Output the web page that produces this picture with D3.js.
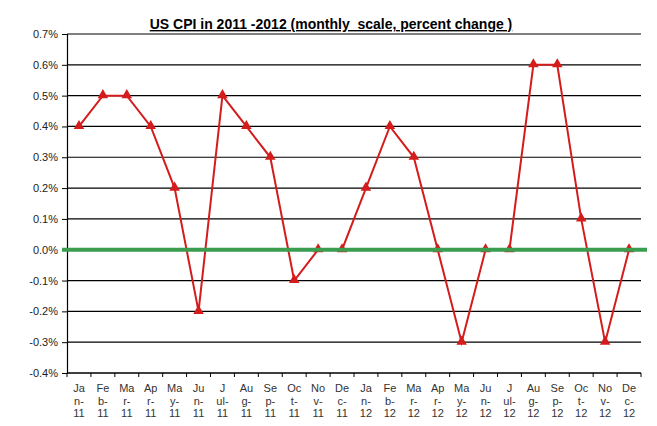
<!DOCTYPE html>
<html>
<head>
<meta charset="utf-8">
<script src="https://cdn.jsdelivr.net/npm/d3@7"></script>
<style>
	body { margin: 0; background: #fff; }
	text { font-family: Arial, "Liberation Sans", sans-serif; }
</style>
</head>
<body>
<script>
"use strict";

// Monthly CPI change, percent
var months = ["Jan-11", "Feb-11", "Mar-11", "Apr-11", "May-11", "Jun-11", "Jul-11", "Aug-11",
	"Sep-11", "Oct-11", "Nov-11", "Dec-11", "Jan-12", "Feb-12", "Mar-12", "Apr-12",
	"May-12", "Jun-12", "Jul-12", "Aug-12", "Sep-12", "Oct-12", "Nov-12", "Dec-12"];
var cpi = [0.4, 0.5, 0.5, 0.4, 0.2, -0.2, 0.5, 0.4, 0.3, -0.1, 0.0, 0.0,
	0.2, 0.4, 0.3, 0.0, -0.3, 0.0, 0.0, 0.6, 0.6, 0.1, -0.3, 0.0];
var yTicks = [-0.4, -0.3, -0.2, -0.1, 0.0, 0.1, 0.2, 0.3, 0.4, 0.5, 0.6, 0.7];
// the broken month labels, as the chart wraps them
var monthLines = [["Ja", "n-", "11"], ["Fe", "b-", "11"], ["Ma", "r-", "11"], ["Ap", "r-", "11"],
	["Ma", "y-", "11"], ["Ju", "n-", "11"], ["J", "ul-", "11"], ["Au", "g-", "11"],
	["Se", "p-", "11"], ["Oc", "t-", "11"], ["No", "v-", "11"], ["De", "c-", "11"],
	["Ja", "n-", "12"], ["Fe", "b-", "12"], ["Ma", "r-", "12"], ["Ap", "r-", "12"],
	["Ma", "y-", "12"], ["Ju", "n-", "12"], ["J", "ul-", "12"], ["Au", "g-", "12"],
	["Se", "p-", "12"], ["Oc", "t-", "12"], ["No", "v-", "12"], ["De", "c-", "12"]];

var W = 657, H = 426;
var plotL = 67, plotR = 641, plotT = 34, plotB = 373;

var svg = d3.select("body").append("svg").attr("width", W).attr("height", H);

var x = d3.scaleBand().domain(months).range([plotL, plotR]);
var y = d3.scaleLinear().domain([-0.4, 0.7]).range([plotB, plotT]);

// Gridlines
svg.append("g").selectAll("line").data(yTicks.filter(function(d) { return d !== 0; }))
	.enter().append("line")
	.attr("x1", plotL).attr("x2", plotR)
	.attr("y1", function(d) { return y(d); }).attr("y2", function(d) { return y(d); })
	.attr("stroke", "#000").attr("stroke-width", 1.2);

// Y axis
var yAxis = d3.axisLeft(y).tickValues(yTicks).tickSize(5).tickPadding(4)
	.tickFormat(function(d) { return d.toFixed(1) + "%"; });
var gy = svg.append("g").attr("transform", "translate(" + plotL + ",0)").call(yAxis);
gy.select(".domain").attr("stroke", "#000").attr("stroke-width", 1.2);
gy.selectAll(".tick line").attr("stroke", "#000");
gy.selectAll(".tick text").attr("font-size", 11).attr("fill", "#222")
	.attr("font-family", "Arial, 'Liberation Sans', sans-serif");

// X axis line and ticks at category boundaries
svg.append("line").attr("x1", plotL).attr("x2", plotR).attr("y1", plotB).attr("y2", plotB)
	.attr("stroke", "#000").attr("stroke-width", 1.2);
var bounds = months.map(function(m) { return x(m); }).concat([plotR]);
svg.append("g").selectAll("line").data(bounds).enter().append("line")
	.attr("x1", function(d) { return d; }).attr("x2", function(d) { return d; })
	.attr("y1", plotB).attr("y2", plotB + 4)
	.attr("stroke", "#000");

// Month labels on three lines
var lbl = svg.append("g").selectAll("text").data(months).enter().append("text")
	.attr("text-anchor", "middle").attr("font-size", 11).attr("fill", "#333");
lbl.each(function(m, i) {
	var t = d3.select(this);
	monthLines[i].forEach(function(s, k) {
		t.append("tspan").attr("x", x(m) + x.bandwidth() / 2).attr("y", 392 + k * 12.5).text(s);
	});
});

// Series line
var cx = function(d, i) { return x(months[i]) + x.bandwidth() / 2; };
var line = d3.line().x(cx).y(function(d) { return y(d); });
svg.append("path").datum(cpi).attr("d", line)
	.attr("fill", "none").attr("stroke", "#d41c1c").attr("stroke-width", 2);

// Triangle markers
var tri = d3.symbol().type(d3.symbolTriangle).size(48);
svg.append("g").selectAll("path").data(cpi).enter().append("path")
	.attr("d", tri)
	.attr("transform", function(d, i) { return "translate(" + cx(d, i) + "," + (y(d) - 0.5) + ")"; })
	.attr("fill", "#d41c1c");

// Zero line, drawn over the series
svg.append("line").attr("x1", plotL - 5).attr("x2", 647).attr("y1", y(0)).attr("y2", y(0))
	.attr("stroke", "#3a9d4f").attr("stroke-width", 4);

// Title
svg.append("text").attr("x", 331).attr("y", 29).attr("text-anchor", "middle")
	.attr("font-size", 14).attr("font-weight", "bold").attr("text-decoration", "underline")
	.attr("fill", "#000")
	.style("white-space", "pre")
	.text("US CPI in 2011 -2012 (monthly  scale, percent change )");
</script>
</body>
</html>
